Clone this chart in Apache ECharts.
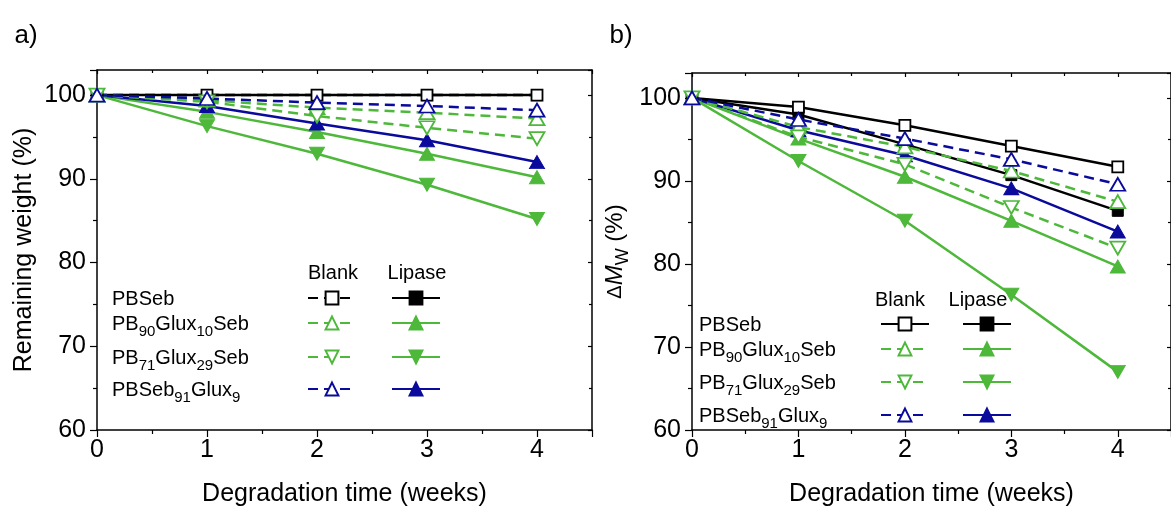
<!DOCTYPE html>
<html>
<head>
<meta charset="utf-8">
<script src="https://cdn.jsdelivr.net/npm/echarts@6/dist/echarts.min.js"></script>
<style>
html,body{margin:0;padding:0;background:#fff;}
#chart{width:1171px;height:512px;}
</style>
</head>
<body>
<div id="chart"></div>
<script>
// ---- data ----
const weeks = [0, 1, 2, 3, 4];
const xTicks = [0, 1, 2, 3, 4];
const yTicks = [60, 70, 80, 90, 100];

// a) Remaining weight (%)
const aPBSebBlank   = [100, 100, 100, 100, 100];
const aPBSebLipase  = [100, 100, 100, 100, 100];
const aG10Blank     = [100, 99.4, 98.5, 97.9, 97.2];
const aG10Lipase    = [100, 98.0, 95.6, 93.0, 90.2];
const aG29Blank     = [100, 99.2, 97.5, 96.1, 94.8];
const aG29Lipase    = [100, 96.3, 93.0, 89.3, 85.2];
const aG9Blank      = [100, 99.6, 99.1, 98.7, 98.2];
const aG9Lipase     = [100, 98.7, 96.6, 94.6, 92.0];

// b) ΔMw (%)
const bPBSebBlank   = [100, 98.9, 96.7, 94.2, 91.7];
const bPBSebLipase  = [100, 98.0, 94.4, 90.7, 86.4];
const bG10Blank     = [100, 96.5, 94.1, 91.2, 87.5];
const bG10Lipase    = [100, 95.1, 90.5, 85.2, 79.7];
const bG29Blank     = [100, 95.3, 92.0, 86.8, 81.9];
const bG29Lipase    = [100, 92.4, 85.2, 76.3, 67.0];
const bG9Blank      = [100, 97.4, 95.1, 92.6, 89.6];
const bG9Lipase     = [100, 96.1, 93.1, 89.1, 83.9];

const labelRows = ['PBSeb', 'PB{s|90}Glux{s|10}Seb', 'PB{s|71}Glux{s|29}Seb', 'PBSeb{s|91}Glux{s|9}'];

// ---- styles ----
const FONT = 'Liberation Sans';
const BLACK = '#000000';
const GREEN = '#4DB83A';
const BLUE = '#0A0A9C';
const DASH = [10, 6];

function mk(name, data, idx, color, filled, shape, dashed) {
  const isTri = shape !== 'rect';
  return {
    name: name,
    type: 'line',
    xAxisIndex: idx, yAxisIndex: idx,
    data: weeks.map((w, i) => [w, data[i]]),
    symbol: isTri ? 'triangle' : 'rect',
    symbolRotate: shape === 'down' ? 180 : 0,
    symbolSize: isTri ? [15, 13] : 11,
    showSymbol: true,
    animation: false,
    lineStyle: { color: color, width: 2.5, type: dashed ? DASH : 'solid' },
    itemStyle: filled ? { color: color, borderColor: color, borderWidth: 1 }
                      : { color: '#ffffff', borderColor: color, borderWidth: 1.8 },
    z: filled ? 3 : 4
  };
}

const series = [
  mk('a PBSeb Lipase', aPBSebLipase, 0, BLACK, true, 'rect', false),
  mk('a PBSeb Blank', aPBSebBlank, 0, BLACK, false, 'rect', true),
  mk('a G10 Blank', aG10Blank, 0, GREEN, false, 'up', true),
  mk('a G29 Blank', aG29Blank, 0, GREEN, false, 'down', true),
  mk('a G9 Blank', aG9Blank, 0, BLUE, false, 'up', true),
  mk('a G10 Lipase', aG10Lipase, 0, GREEN, true, 'up', false),
  mk('a G29 Lipase', aG29Lipase, 0, GREEN, true, 'down', false),
  mk('a G9 Lipase', aG9Lipase, 0, BLUE, true, 'up', false),

  mk('b PBSeb Lipase', bPBSebLipase, 2, BLACK, true, 'rect', false),
  mk('b PBSeb Blank', bPBSebBlank, 2, BLACK, false, 'rect', false),
  mk('b G10 Blank', bG10Blank, 2, GREEN, false, 'up', true),
  mk('b G29 Blank', bG29Blank, 2, GREEN, false, 'down', true),
  mk('b G9 Blank', bG9Blank, 2, BLUE, false, 'up', true),
  mk('b G10 Lipase', bG10Lipase, 2, GREEN, true, 'up', false),
  mk('b G29 Lipase', bG29Lipase, 2, GREEN, true, 'down', false),
  mk('b G9 Lipase', bG9Lipase, 2, BLUE, true, 'up', false)
];

const grids = [
  { left: 97, top: 70, width: 495, height: 366 },
  { left: 692, top: 73, width: 487, height: 363 }
];

function xAx(grid, pos, main) {
  return {
    type: 'value', gridIndex: grid, position: pos,
    min: xTicks[0], max: 4.5, interval: 1,
    axisLine: { show: true, onZero: false, lineStyle: { color: BLACK, width: 1.5 } },
    axisTick: { show: true, inside: !main, length: main ? 7 : 4, lineStyle: { color: BLACK, width: 1.2 } },
    minorTick: { show: true, splitNumber: 2, length: main ? 4 : 3, lineStyle: { color: BLACK, width: 1.2 } },
    axisLabel: { show: main, showMaxLabel: false, fontFamily: FONT, fontSize: 25, color: BLACK, margin: 8 },
    splitLine: { show: false }, minorSplitLine: { show: false },
    name: main ? 'Degradation time (weeks)' : '',
    nameLocation: 'middle', nameGap: 52,
    nameTextStyle: { fontFamily: FONT, fontSize: 25, color: BLACK }
  };
}
function yAx(grid, pos, main, name, nameStyle) {
  return {
    type: 'value', gridIndex: grid, position: pos,
    min: yTicks[0], max: 103, interval: 10,
    axisLine: { show: true, onZero: false, lineStyle: { color: BLACK, width: 1.5 } },
    axisTick: { show: true, inside: !main, length: main ? 7 : 4, lineStyle: { color: BLACK, width: 1.2 } },
    minorTick: { show: true, splitNumber: 2, length: main ? 4 : 3, lineStyle: { color: BLACK, width: 1.2 } },
    axisLabel: { show: main, showMaxLabel: false, fontFamily: FONT, fontSize: 25, color: BLACK, margin: 11 },
    splitLine: { show: false }, minorSplitLine: { show: false },
    name: main ? name : '',
    nameLocation: 'middle', nameGap: 60, nameRotate: 90,
    nameTextStyle: nameStyle
  };
}

const yNameA = { fontFamily: FONT, fontSize: 25, color: BLACK };
const yNameB = {
  fontFamily: FONT, fontSize: 24, color: BLACK,
  rich: {
    n: { fontFamily: FONT, fontSize: 24, color: BLACK, lineHeight: 34, verticalAlign: 'middle' },
    d: { fontFamily: FONT, fontSize: 20, color: BLACK, lineHeight: 34, verticalAlign: 'middle' },
    i: { fontFamily: FONT, fontSize: 24, fontStyle: 'italic', color: BLACK, lineHeight: 34, verticalAlign: 'middle' },
    s: { fontFamily: FONT, fontSize: 18, color: BLACK, lineHeight: 34, verticalAlign: 'bottom' }
  }
};

// legends: one per row, two items (Blank, Lipase)
const keys = ['PBSeb', 'G10', 'G29', 'G9'];
const rowYA = [298, 323, 357, 389];
const rowYB = [324, 349, 382, 415];
const legends = [];
keys.forEach((k, i) => {
  legends.push({
    left: 307, top: rowYA[i] - 8, orient: 'horizontal', padding: 0,
    itemWidth: 48, itemHeight: 16, itemGap: 34, selectedMode: false,
    formatter: () => '', textStyle: { fontSize: 1 },
    data: ['a ' + k + ' Blank', 'a ' + k + ' Lipase']
  });
  legends.push({
    left: 880, top: rowYB[i] - 8, orient: 'horizontal', padding: 0,
    itemWidth: 48, itemHeight: 16, itemGap: 32, selectedMode: false,
    formatter: () => '', textStyle: { fontSize: 1 },
    data: ['b ' + k + ' Blank', 'b ' + k + ' Lipase']
  });
});

const richLbl = {
  n: { fontFamily: FONT, fontSize: 20, fill: BLACK, lineHeight: 30, verticalAlign: 'middle' },
  s: { fontFamily: FONT, fontSize: 15, fill: BLACK, lineHeight: 30, verticalAlign: 'bottom' }
};
function lbl(x, y, txt) {
  const t = '{n|' + txt.replace(/\{s\|([^}]*)\}/g, '}{s|$1}{n|') + '}';
  return { type: 'text', left: x, top: y - 9, silent: true,
    style: { text: t, rich: richLbl, fontFamily: FONT, fontSize: 20, fill: BLACK } };
}
function plain(x, y, txt, size) {
  return { type: 'text', x: x, y: y, silent: true,
    style: { text: txt, fontFamily: FONT, fontSize: size, fill: BLACK, align: 'center', verticalAlign: 'middle' } };
}

const graphics = [
  plain(26, 36, 'a)', 26),
  plain(621, 36, 'b)', 26),
  plain(333, 273, 'Blank', 20),
  plain(417, 273, 'Lipase', 20),
  plain(900, 300, 'Blank', 20),
  plain(978, 300, 'Lipase', 20)
];
labelRows.forEach((t, i) => {
  graphics.push(lbl(112, rowYA[i], t));
  graphics.push(lbl(699, rowYB[i], t));
});

const chart = echarts.init(document.getElementById('chart'), null, { renderer: 'canvas' });
chart.setOption({
  animation: false,
  backgroundColor: '#ffffff',
  grid: grids,
  xAxis: [xAx(0, 'bottom', true), xAx(0, 'top', false), xAx(1, 'bottom', true), xAx(1, 'top', false)],
  yAxis: [yAx(0, 'left', true, 'Remaining weight (%)', yNameA), yAx(0, 'right', false, '', yNameA),
          yAx(1, 'left', true, '{d|Δ}{i|M}{s|W}{n| (%)}', yNameB), yAx(1, 'right', false, '', yNameA)],
  legend: legends,
  series: series,
  graphic: graphics
});
</script>
</body>
</html>
